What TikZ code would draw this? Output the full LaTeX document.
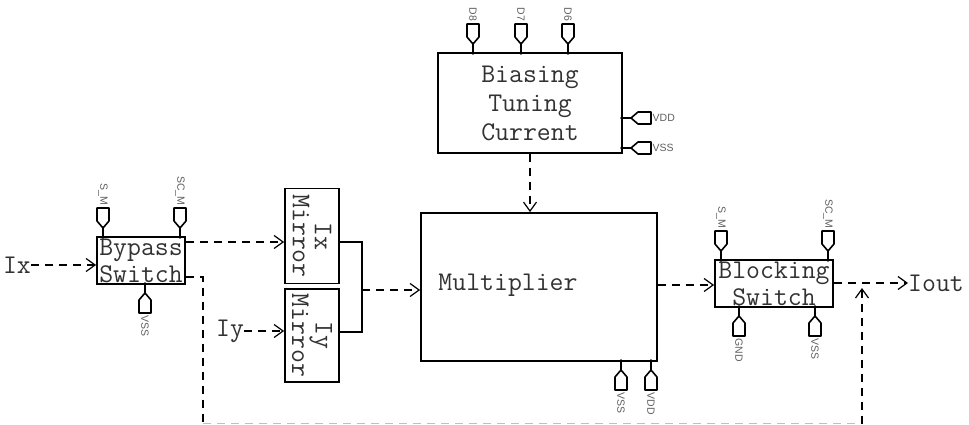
\documentclass[tikz,border=0pt]{standalone}
\usepackage{fontspec}
\newfontfamily\pinfont{Liberation Sans}
\usetikzlibrary{arrows.meta,positioning,calc}
\definecolor{blktext}{RGB}{50,50,50}
\definecolor{pintext}{RGB}{95,95,95}
\tikzset{
  blk/.style={draw,line width=1.8pt,inner sep=0pt},
  boxtext/.style={text=blktext,font=\ttfamily\fontsize{27}{27}\selectfont,align=center,inner sep=0pt},
  flow/.style={dashed,dash pattern=on 8pt off 6pt,line width=1.3pt,
    -{Straight Barb[length=9pt,width=13pt,line width=1.2pt]}},
  flowline/.style={dashed,dash pattern=on 8pt off 6pt,line width=1.3pt},
  wire/.style={line width=1.6pt},
  pinlabel/.style={text=pintext,font=\pinfont\fontsize{10.5}{10.5}\selectfont,inner sep=0.5pt},
  pinpad/.pic={
    \draw[line width=1.6pt] (0,0) -- (0,-9);
    \draw[line width=1.6pt,line join=round] (0,-9) -- (-6,-16) -- (-6,-29) -- (6,-29) -- (6,-16) -- cycle;
    \fill (0,0) circle (1.8pt);
  }
}

\begin{document}
\begin{tikzpicture}[x=1pt,y=-1pt]
\useasboundingbox (0,0) rectangle (969,425);
% ---------------- blocks ----------------
\node[blk,boxtext,minimum width=88pt,minimum height=47pt] (bypass) at (141,260.5) {Bypass\\Switch};
\node[blk,minimum width=54pt,minimum height=95pt] (ixmirror) at (312,236) {};
\node[boxtext,rotate=-90,font=\ttfamily\fontsize{27}{22}\selectfont] (ixtext) at (ixmirror) {Ix\\Mirror};
\node[blk,minimum width=54pt,minimum height=93pt] (iymirror) at (312,335.5) {};
\node[boxtext,rotate=-90,font=\ttfamily\fontsize{27}{22}\selectfont] (iytext) at (iymirror) {Iy\\Mirror};
\node[blk,minimum width=236pt,minimum height=148pt] (mult) at (539,287) {};
\node[boxtext] (multtext) at (508,285) {Multiplier};
\node[blk,boxtext,font=\ttfamily\fontsize{27}{29}\selectfont,minimum width=184pt,minimum height=100pt] (bias) at (530,103) {Biasing\\Tuning\\Current};
\node[blk,boxtext,minimum width=118pt,minimum height=47pt] (block) at (774,283.5) {Blocking\\Switch};
% ---------------- terminals ----------------
\node[boxtext] (ix) at (17,265) {Ix};
\node[boxtext] (iy) at (230,331) {Iy};
\node[boxtext,anchor=west] (iout) at (908,283) {Iout};
% ---------------- connectors ----------------
\draw[flow] (ix.east) -- (ix.east -| bypass.west);
\draw[flow] (iy.east) -- (iy.east -| iymirror.west);
\draw[flow] (bypass.east |- 0,242) -- (ixmirror.west |- 0,242);
\coordinate (merge) at (362,290);
\draw[wire] (ixmirror.east |- 0,242) -| (merge) |- (iymirror.east |- 0,332);
\draw[flow] (merge) -- (merge -| mult.west);
\draw[flow] (bias.south) -- (bias.south |- mult.north);
\draw[flow] (mult.east |- 0,285) -- (block.west |- 0,285);
\draw[flow] (block.east |- iout.west) -- (iout.west);
% feedback from bypass
\coordinate (fbleft) at (203,423.5);
\coordinate (fbright) at (862,423.5);
\draw[flowline] (bypass.east |- 0,277) -| (fbleft);
\draw[dashed,dash pattern=on 8pt off 6pt,black!25,line width=1pt] (fbleft) -- (fbright);
\draw[flow] (fbright) -- (862,288);
% ---------------- pins ----------------
\foreach \x/\l in {103/S\_M,180/SC\_M,721/S\_M,828/SC\_M,473/D8,521/D7,568/D6}{
  \pgfmathsetmacro{\y}{\x>400 ? (\x>700 ? 260 : 53) : 237}
  \pic at (\x,\y) {pinpad};
  \node[pinlabel,rotate=-90,anchor=east] (top-\x) at (\x,\y-31) {\l};}
\foreach \x/\l in {145/VSS,621/VSS,651/VDD,739/GND,815/VSS}{
  \pgfmathsetmacro{\y}{\x>700 ? 307 : (\x>400 ? 361 : 284)}
  \pic[rotate=180] at (\x,\y) {pinpad};
  \node[pinlabel,rotate=-90,anchor=west] (bot-\x) at (\x,\y+31) {\l};}
\foreach \y/\l in {118/VDD,148/VSS}{
  \pic[rotate=-90] at (622,\y) {pinpad};
  \node[pinlabel,anchor=west] (side-\y) at (652,\y) {\l};}
\end{tikzpicture}
\end{document}
